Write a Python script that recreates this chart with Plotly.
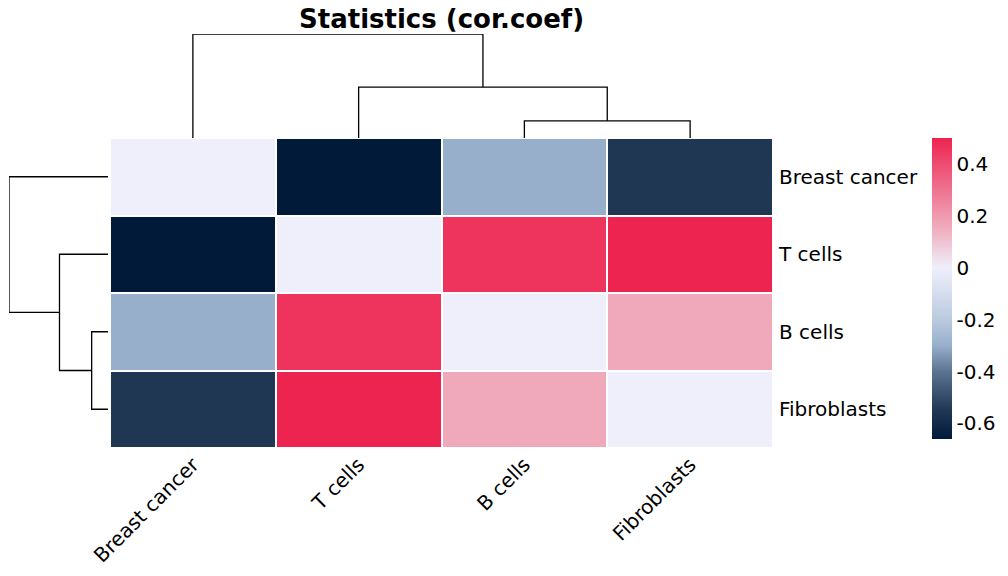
import plotly.graph_objects as go

# ---------------- data ----------------
labels = ["Breast cancer", "T cells", "B cells", "Fibroblasts"]
row_bc = [0.00, -0.66, -0.30, -0.55]
row_t = [-0.66, 0.00, 0.46, 0.50]
row_b = [-0.30, 0.46, 0.00, 0.16]
row_f = [-0.55, 0.50, 0.16, 0.00]
values = [row_bc, row_t, row_b, row_f]

# hierarchical clustering (same tree for rows and columns)
# each merge: (left child, right child, height); leaves are 0..3, merges are 4,5,6
merges = [(2, 3, 0.165), (1, 4, 0.49), (0, 5, 1.0)]
cbar_ticks = [-0.6, -0.4, -0.2, 0, 0.2, 0.4]
cbar_text = ["-0.6", "-0.4", "-0.2", "0", "0.2", "0.4"]

# page body has an 8px margin; figure fills the rest of the 1008x576 window
OFF = 8
W, H = 1008 - OFF, 576 - OFF
FONT = "DejaVu Sans"
FS = 20


def px_x(p):
    return max(0.0, (p - OFF) / W)


def px_y(p):
    return min(1.0, 1 - (p - OFF) / H)


def dendro_segments(merges, n):
    pos = {i: float(i) for i in range(n)}
    hgt = {i: 0.0 for i in range(n)}
    xs, hs = [], []
    for k, (a, b, h) in enumerate(merges):
        node = n + k
        xs += [pos[a], pos[a], pos[b], pos[b], None]
        hs += [hgt[a], h, h, hgt[b], None]
        pos[node] = (pos[a] + pos[b]) / 2
        hgt[node] = h
    return xs, hs


dx, dh = dendro_segments(merges, len(labels))

fig = go.Figure()

colorscale = [
    [0.0, "#021A3A"],
    [0.095, "#203754"],
    [0.224, "#5C7491"],
    [0.31, "#97AFCA"],
    [0.397, "#BACADF"],
    [0.569, "#EFEFFB"],
    [0.698, "#EFADBE"],
    [0.828, "#EE7391"],
    [1.0, "#EE2450"],
]

zmin = min(min(r) for r in values)
zmax = max(max(r) for r in values)

fig.add_trace(go.Heatmap(
    z=values, x=labels, y=labels,
    colorscale=colorscale, zmin=zmin, zmax=zmax,
    xgap=2, ygap=2,
    xaxis="x", yaxis="y",
    colorbar=dict(
        x=px_x(932), xanchor="left", thickness=20, thicknessmode="pixels",
        y=px_y(138), yanchor="top", len=(439 - 138) / H, lenmode="fraction",
        tickvals=cbar_ticks, ticktext=cbar_text,
        ticks="", outlinewidth=0, xpad=0, ypad=0,
        tickfont=dict(family=FONT, size=FS, color="black"),
    ),
    hoverinfo="skip",
))

# column dendrogram
fig.add_trace(go.Scatter(
    x=dx, y=dh, mode="lines", line=dict(color="black", width=1.3),
    xaxis="x2", yaxis="y2", showlegend=False, hoverinfo="skip",
))
# row dendrogram
fig.add_trace(go.Scatter(
    x=dh, y=dx, mode="lines", line=dict(color="black", width=1.3),
    xaxis="x3", yaxis="y3", showlegend=False, hoverinfo="skip",
))

hm_x = [px_x(110), px_x(773)]
hm_y = [px_y(448), px_y(138)]
n = len(labels)
hmax = max(m[2] for m in merges)

fig.update_layout(
    width=W, height=H,
    margin=dict(l=0, r=0, t=0, b=0, autoexpand=False),
    paper_bgcolor="white", plot_bgcolor="white",
    showlegend=False,
    xaxis=dict(domain=hm_x, tickangle=-45, ticks="", showgrid=False, zeroline=False,
               showline=False, tickfont=dict(family=FONT, size=FS, color="black"),
               anchor="y", automargin=False),
    yaxis=dict(domain=hm_y, autorange="reversed", side="right", ticks="", showgrid=False,
               zeroline=False, showline=False, anchor="x", automargin=False,
               ticklabelstandoff=5,
               tickfont=dict(family=FONT, size=FS, color="black")),
    xaxis2=dict(domain=hm_x, range=[-0.5, n - 0.5], visible=False, anchor="y2"),
    yaxis2=dict(domain=[px_y(138), px_y(34)], range=[0, hmax], visible=False, anchor="x2"),
    xaxis3=dict(domain=[px_x(9), px_x(108)], range=[hmax, 0], visible=False, anchor="y3"),
    yaxis3=dict(domain=hm_y, range=[n - 0.5, -0.5], visible=False, anchor="x3"),
    annotations=[dict(
        text="<b>Statistics (cor.coef)</b>", xref="paper", yref="paper",
        x=(hm_x[0] + hm_x[1]) / 2, y=px_y(19), xanchor="center", yanchor="middle",
        showarrow=False, font=dict(family=FONT, size=26, color="black"),
    )],
)

fig.write_html("out.html")
